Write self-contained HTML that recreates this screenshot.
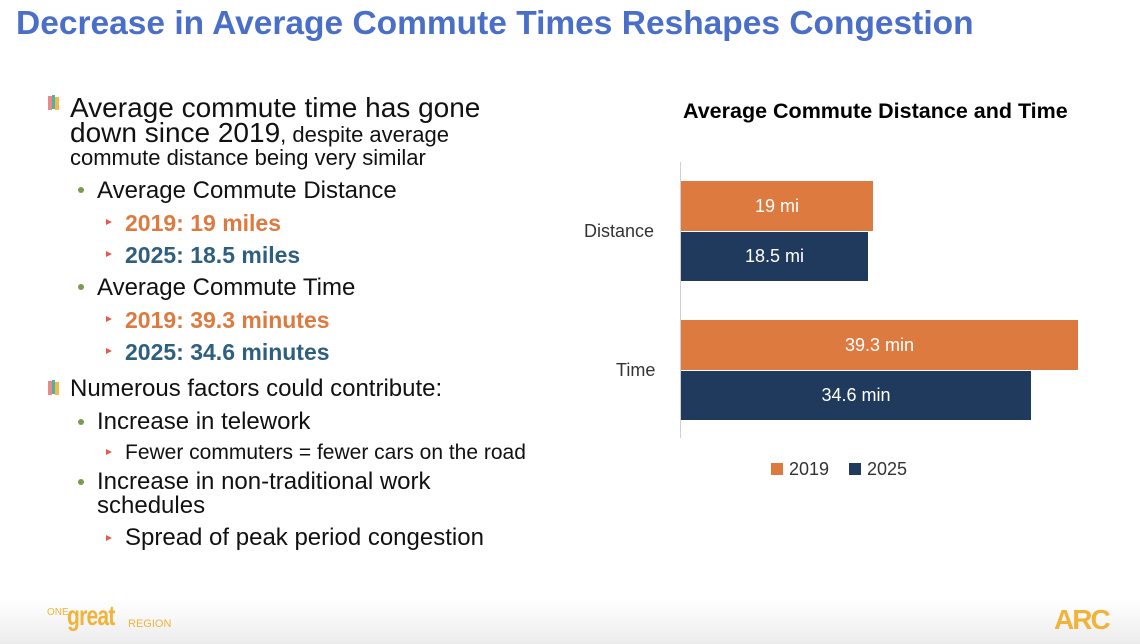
<!DOCTYPE html>
<html><head><meta charset="utf-8"><style>
body{margin:0;width:1140px;height:644px;position:relative;background:#fff;font-family:"Liberation Sans",sans-serif;overflow:hidden}
.a{position:absolute;white-space:nowrap}
h1{position:absolute;left:16px;top:5px;margin:0;font-size:33.5px;color:#4A6FC8;font-weight:bold}
.l1{font-size:28px;color:#111;line-height:1}
.l2{font-size:24px;color:#111;line-height:1}
.l3{font-size:23px;font-weight:bold;line-height:1}
.l3s{font-size:21px;color:#111;line-height:1}
.dot{position:absolute;width:6px;height:6px;border-radius:3px;background:#7A9A50}
.tri{position:absolute;width:0;height:0;border-left:6px solid #E35B50;border-top:3px solid transparent;border-bottom:3px solid transparent}
.bar{position:absolute;color:#fff;font-size:18px;display:flex;align-items:center;justify-content:center}
.foot{position:absolute;left:0;top:600px;width:1140px;height:44px;background:linear-gradient(#fff,#ececec)}
</style></head><body>
<h1>Decrease in Average Commute Times Reshapes Congestion</h1>
<div class="a" style="left:48px;top:96px;width:4px;height:14px;background:#E98A8A"></div>
<div class="a" style="left:52px;top:95px;width:3px;height:14px;background:#4BB3A3"></div>
<div class="a" style="left:55px;top:97px;width:4px;height:13px;background:#F0B94A"></div>
<div class="a l1" style="left:70px;top:94px">Average commute time has gone</div>
<div class="a l1" style="left:70px;top:119px">down since 2019<span style="font-size:22px">, despite average</span></div>
<div class="a" style="left:70px;top:147px;font-size:22px;color:#111;line-height:1">commute distance being very similar</div>
<div class="dot" style="left:78px;top:187px"></div>
<div class="a l2" style="left:97px;top:179px">Average Commute Distance</div>
<div class="tri" style="left:106px;top:219px"></div>
<div class="a l3" style="left:125px;top:212px;color:#DD7A3F">2019: 19 miles</div>
<div class="tri" style="left:106px;top:251px"></div>
<div class="a l3" style="left:125px;top:244px;color:#2F5F80">2025: 18.5 miles</div>
<div class="dot" style="left:78px;top:284px"></div>
<div class="a l2" style="left:97px;top:276px">Average Commute Time</div>
<div class="tri" style="left:106px;top:316px"></div>
<div class="a l3" style="left:125px;top:309px;color:#DD7A3F">2019: 39.3 minutes</div>
<div class="tri" style="left:106px;top:348px"></div>
<div class="a l3" style="left:125px;top:341px;color:#2F5F80">2025: 34.6 minutes</div>
<div class="a" style="left:48px;top:381px;width:4px;height:14px;background:#E98A8A"></div>
<div class="a" style="left:52px;top:380px;width:3px;height:14px;background:#4BB3A3"></div>
<div class="a" style="left:55px;top:382px;width:4px;height:13px;background:#F0B94A"></div>
<div class="a l2" style="left:70px;top:377px">Numerous factors could contribute:</div>
<div class="dot" style="left:78px;top:419px"></div>
<div class="a l2" style="left:97px;top:410px">Increase in telework</div>
<div class="tri" style="left:106px;top:449px"></div>
<div class="a l3s" style="left:125px;top:442px">Fewer commuters = fewer cars on the road</div>
<div class="dot" style="left:78px;top:479px"></div>
<div class="a l2" style="left:97px;top:470px">Increase in non-traditional work</div>
<div class="a l2" style="left:97px;top:494px">schedules</div>
<div class="tri" style="left:106px;top:535px"></div>
<div class="a l2" style="left:125px;top:526px">Spread of peak period congestion</div>

<div class="a" style="left:683px;top:99px;font-size:21.5px;font-weight:bold;color:#000">Average Commute Distance and Time</div>
<div class="a" style="left:680px;top:162px;width:1px;height:276px;background:#d0d0d0"></div>
<div class="a" style="left:584px;top:221px;font-size:18px;color:#333">Distance</div>
<div class="a" style="left:616px;top:360px;font-size:18px;color:#333">Time</div>
<div class="bar" style="left:681px;top:181px;width:192px;height:50px;background:#DD7A3F">19 mi</div>
<div class="bar" style="left:681px;top:232px;width:187px;height:49px;background:#203A5E">18.5 mi</div>
<div class="bar" style="left:681px;top:320px;width:397px;height:50px;background:#DD7A3F">39.3 min</div>
<div class="bar" style="left:681px;top:371px;width:350px;height:49px;background:#203A5E">34.6 min</div>
<div class="a" style="left:771px;top:463px;width:12px;height:12px;background:#DD7A3F"></div>
<div class="a" style="left:789px;top:459px;font-size:18px;color:#333">2019</div>
<div class="a" style="left:849px;top:463px;width:12px;height:12px;background:#203A5E"></div>
<div class="a" style="left:867px;top:459px;font-size:18px;color:#333">2025</div>

<div class="foot"></div>
<div class="a" style="left:47px;top:607px;font-size:10px;color:#F0B43C">ONE</div>
<div class="a" style="left:67px;top:600px;font-size:28px;font-weight:bold;color:#F0B43C;letter-spacing:-1px;transform:scaleX(0.75);transform-origin:left">great</div>
<div class="a" style="left:128px;top:618px;font-size:11px;color:#F0B43C">REGION</div>
<div class="a" style="left:1054px;top:604px;font-size:28px;font-weight:bold;color:#F0B43C;letter-spacing:-2px">ARC</div>
</body></html>
